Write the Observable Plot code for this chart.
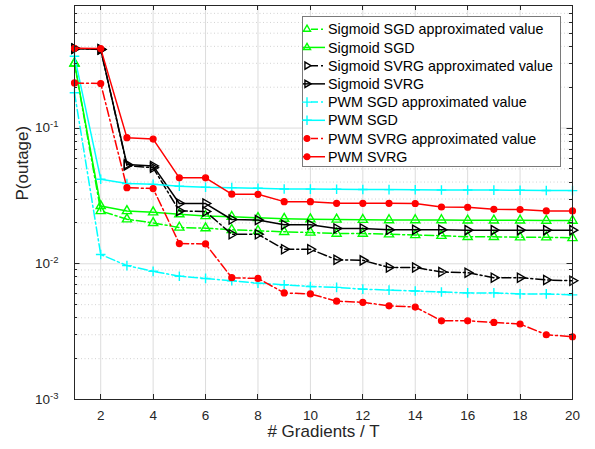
<!DOCTYPE html>
<html>
<head>
<meta charset="utf-8">
<script src="https://cdn.jsdelivr.net/npm/d3@7"></script>
<script src="https://cdn.jsdelivr.net/npm/@observablehq/plot@0.6"></script>
<style>
  html, body { margin: 0; padding: 0; background: #fff; }
  #chart svg { display: block; }
</style>
</head>
<body>
<div id="chart"></div>
<script>
// Number of gradient evaluations per T
const gradients = [1, 2, 3, 4, 5, 6, 7, 8, 9, 10, 11, 12, 13, 14, 15, 16, 17, 18, 19, 20];

// Outage probability per method
const sigmoidSgdApprox = [0.30, 0.0245, 0.0213, 0.0200, 0.0185, 0.0183, 0.0178, 0.0175, 0.0172, 0.0170,
                          0.0167, 0.0167, 0.0165, 0.0163, 0.0161, 0.0158, 0.0158, 0.0157, 0.0157, 0.0155];
const sigmoidSgd       = [0.30, 0.0267, 0.0245, 0.0240, 0.0232, 0.0225, 0.0222, 0.0218, 0.0215, 0.0213,
                          0.0212, 0.0211, 0.0210, 0.0210, 0.0210, 0.0209, 0.0209, 0.0209, 0.0208, 0.0208];
const sigmoidSvrgApprox = [0.385, 0.38, 0.053, 0.051, 0.0245, 0.0243, 0.0165, 0.0165, 0.0128, 0.0128,
                           0.0107, 0.0106, 0.0094, 0.0094, 0.0087, 0.0086, 0.0079, 0.0079, 0.0076, 0.0075];
const sigmoidSvrg      = [0.385, 0.38, 0.054, 0.0526, 0.0278, 0.0278, 0.0212, 0.0210, 0.0194, 0.0194,
                          0.0182, 0.0182, 0.0178, 0.0178, 0.0178, 0.0177, 0.0177, 0.0177, 0.0177, 0.0177];
const pwmSgdApprox     = [0.182, 0.0117, 0.0097, 0.0088, 0.0081, 0.0078, 0.0075, 0.0072, 0.0070, 0.0068,
                          0.0067, 0.0065, 0.0064, 0.0063, 0.0062, 0.0061, 0.0061, 0.0060, 0.0060, 0.0059];
const pwmSgd           = [0.338, 0.042, 0.039, 0.0385, 0.0373, 0.0366, 0.0364, 0.0360, 0.0356, 0.0355,
                          0.0354, 0.0353, 0.0352, 0.0351, 0.0350, 0.0350, 0.0349, 0.0348, 0.0347, 0.0346];
const pwmSvrgApprox    = [0.215, 0.213, 0.0364, 0.0358, 0.0141, 0.0140, 0.0079, 0.0078, 0.0061, 0.0060,
                          0.0053, 0.0052, 0.0049, 0.0048, 0.0038, 0.0038, 0.0037, 0.0036, 0.0030, 0.0029];
const pwmSvrg          = [0.387, 0.385, 0.085, 0.083, 0.043, 0.043, 0.0326, 0.0325, 0.0287, 0.0287,
                          0.0279, 0.0279, 0.0279, 0.0278, 0.0262, 0.0261, 0.0252, 0.0251, 0.0245, 0.0245];

const seriesNames = [
  "Sigmoid SGD approximated value", "Sigmoid SGD",
  "Sigmoid SVRG approximated value", "Sigmoid SVRG",
  "PWM SGD approximated value", "PWM SGD",
  "PWM SVRG approximated value", "PWM SVRG"
];
const seriesValues = [sigmoidSgdApprox, sigmoidSgd, sigmoidSvrgApprox, sigmoidSvrg,
                      pwmSgdApprox, pwmSgd, pwmSvrgApprox, pwmSvrg];

// Axis ticks
const xTicks = [2, 4, 6, 8, 10, 12, 14, 16, 18, 20];
const yMajor = [0.001, 0.01, 0.1];
const yExponents = ["-3", "-2", "-1"];
const yDomain = [0.001, 0.8];

// Visual style for each series
const DASHDOT = "9,3,2,3";
const styles = [
  { color: "#00ff00", dash: DASHDOT, symbol: "triangle", rotate: 0,  fill: "none", r: 3.4 },
  { color: "#00ff00", dash: null,    symbol: "triangle", rotate: 0,  fill: "none", r: 3.4 },
  { color: "#000000", dash: DASHDOT, symbol: "triangle", rotate: 90, fill: "none", r: 3.4 },
  { color: "#000000", dash: null,    symbol: "triangle", rotate: 90, fill: "none", r: 3.4 },
  { color: "#00ffff", dash: DASHDOT, symbol: "plus",     rotate: 0,  fill: "none", r: 3.2 },
  { color: "#00ffff", dash: null,    symbol: "plus",     rotate: 0,  fill: "none", r: 3.2 },
  { color: "#ff0000", dash: DASHDOT, symbol: "circle",   rotate: 0,  fill: "#ff0000", r: 2.9 },
  { color: "#ff0000", dash: null,    symbol: "circle",   rotate: 0,  fill: "#ff0000", r: 2.9 }
];

// Minor log ticks (2..9 x 10^k) inside the domain
const yMinor = [];
for (const base of [0.001, 0.01, 0.1]) {
  for (let m = 2; m <= 9; m++) {
    const v = +(m * base).toPrecision(3);
    if (v <= yDomain[1]) yMinor.push(v);
  }
}

const FONT = "'Liberation Sans', Arial, Helvetica, sans-serif";
const INK = "#262626";

const seriesMarks = seriesNames.flatMap((name, i) => {
  const s = styles[i];
  const rows = gradients.map((g, j) => ({ x: g, y: seriesValues[i][j] }));
  return [
    Plot.line(rows, {
      x: "x", y: "y", stroke: s.color, strokeWidth: 1.5,
      strokeDasharray: s.dash ?? undefined, strokeLinejoin: "round"
    }),
    Plot.dot(rows, {
      x: "x", y: "y", symbol: s.symbol, rotate: s.rotate, r: s.r,
      stroke: s.color, strokeWidth: 1.4, fill: s.fill
    })
  ];
});

const chart = Plot.plot({
  width: 595,
  height: 449,
  marginLeft: 74,
  marginRight: 23,
  marginTop: 5,
  marginBottom: 50,
  style: { fontFamily: FONT, fontSize: "13px", color: INK, background: "#fff" },
  x: { domain: [1, 20] },
  y: { type: "log", domain: yDomain },
  marks: [
    Plot.ruleY(yMinor, { stroke: "#c8c8c8", strokeWidth: 0.8, strokeDasharray: "1,2.5" }),
    Plot.ruleY(yMajor, { stroke: "#dcdcdc", strokeWidth: 1 }),
    Plot.ruleX(xTicks, { stroke: "#dcdcdc", strokeWidth: 1 }),
    ...seriesMarks,
    Plot.frame({ stroke: INK, strokeWidth: 1 }),
    Plot.axisX(xTicks, { tickSize: 0, tickPadding: 11, label: null, fontSize: 13.5, fill: INK }),
    Plot.axisY(yMajor, { tickSize: 0, tickPadding: 16, label: null, tickFormat: () => "10", fontSize: 13.5, fill: INK }),
    Plot.text(["# Gradients / T"], { frameAnchor: "bottom", dy: 37.5, fontSize: 17, fill: INK }),
    Plot.text(["P(outage)"], { frameAnchor: "left", rotate: -90, dx: -52, dy: -2, fontSize: 17, fill: INK })
  ]
});

document.getElementById("chart").appendChild(chart);

// Post-processing: exponents, inward ticks and legend
const svg = d3.select(chart);
const xs = chart.scale("x"), ys = chart.scale("y");
const frameLeft = xs.apply(1), frameRight = xs.apply(20);
const frameTop = ys.apply(yDomain[1]), frameBottom = ys.apply(yDomain[0]);

// superscript exponents on the log-axis labels
svg.selectAll('g[aria-label="y-axis tick label"] text').each(function (d, i) {
  d3.select(this).append("tspan")
    .attr("dy", "-0.55em")
    .attr("font-size", 9.5)
    .text(yExponents[i]);
});

// inward tick marks on all four sides
const ticks = svg.append("g").attr("stroke", INK).attr("stroke-width", 1).attr("fill", "none");
for (const v of xTicks) {
  const px = Math.round(xs.apply(v)) + 0.5;
  ticks.append("line").attr("x1", px).attr("x2", px).attr("y1", frameBottom).attr("y2", frameBottom - 5);
  ticks.append("line").attr("x1", px).attr("x2", px).attr("y1", frameTop).attr("y2", frameTop + 5);
}
for (const [vals, len] of [[yMajor, 5.5], [yMinor, 3]]) {
  for (const v of vals) {
    const py = Math.round(ys.apply(v)) + 0.5;
    ticks.append("line").attr("x1", frameLeft).attr("x2", frameLeft + len).attr("y1", py).attr("y2", py);
    ticks.append("line").attr("x1", frameRight).attr("x2", frameRight - len).attr("y1", py).attr("y2", py);
  }
}

// legend box
const legend = svg.append("g")
  .attr("font-family", FONT).attr("font-size", 14.3)
  .attr("text-anchor", "start").attr("fill", "#000");
const box = { x0: 302.5, x1: 560.5, y0: 16.5, y1: 166.5 };
legend.append("rect")
  .attr("x", box.x0).attr("y", box.y0)
  .attr("width", box.x1 - box.x0).attr("height", box.y1 - box.y0)
  .attr("fill", "#fff").attr("stroke", "#7a7a7a").attr("stroke-width", 1);

const symbolTypes = { triangle: d3.symbolTriangle2, plus: d3.symbolPlus, circle: d3.symbolCircle };
const rowStart = 29.2, rowStep = 18.22;
seriesNames.forEach((name, i) => {
  const s = styles[i];
  const cy = rowStart + i * rowStep;
  const row = legend.append("g");
  row.append("line")
    .attr("x1", s.dash ? 311 : 303).attr("x2", 325)
    .attr("y1", cy).attr("y2", cy)
    .attr("stroke", s.color).attr("stroke-width", 1.5)
    .attr("stroke-dasharray", s.dash ? "7,3,2,3" : null);
  row.append("path")
    .attr("d", d3.symbol(symbolTypes[s.symbol], Math.PI * s.r * s.r)())
    .attr("transform", `translate(307,${cy}) rotate(${s.rotate})`)
    .attr("stroke", s.color).attr("stroke-width", 1.4)
    .attr("fill", s.fill);
  row.append("text")
    .attr("x", 328).attr("y", cy).attr("dy", "0.36em")
    .attr("fill", "#000")
    .text(name);
});
</script>
</body>
</html>
